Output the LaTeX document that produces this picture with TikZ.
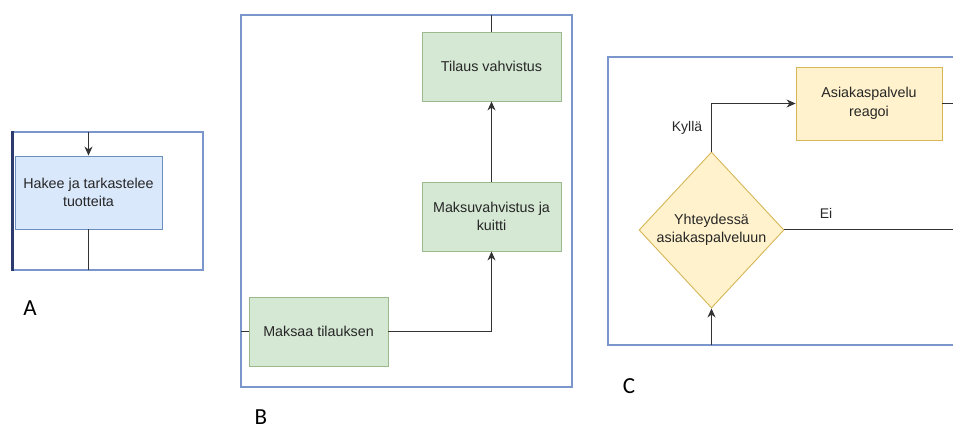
\documentclass[tikz,border=0pt]{standalone}
\usepackage{fontspec}
\setmainfont{Liberation Sans}
\newfontfamily\labfont{Carlito}
\usetikzlibrary{arrows.meta,shapes.geometric}
\definecolor{framec}{HTML}{7B96CC}
\definecolor{navy}{HTML}{2B3B6E}
\definecolor{bluef}{HTML}{DAE8FC}\definecolor{blues}{HTML}{6C8EBF}
\definecolor{greenf}{HTML}{D5E8D4}\definecolor{greens}{HTML}{9CB98E}
\definecolor{yellf}{HTML}{FFF2CC}\definecolor{yells}{HTML}{D6B656}
\definecolor{linec}{HTML}{333333}
\tikzset{
  x=1pt,y=-1pt,
  frame/.style={draw=framec,line width=1.3pt},
  boxtxt/.style={font=\fontsize{14.3}{18.5}\selectfont,align=center,text=black!85,inner sep=0pt},
  bluebox/.style={boxtxt,draw=blues,fill=bluef,line width=0.9pt,minimum width=147pt,minimum height=73pt},
  greenbox/.style={boxtxt,draw=greens,fill=greenf,line width=0.9pt,minimum width=139pt,minimum height=69pt},
  yellbox/.style={boxtxt,draw=yells,fill=yellf,line width=0.9pt,minimum width=146pt,minimum height=73pt},
  decision/.style={boxtxt,diamond,draw=yells,fill=yellf,line width=0.9pt,minimum width=145pt,minimum height=156pt,aspect=0.93},
  conn/.style={draw=linec,line width=1pt},
  arr/.style={conn,-{Stealth[length=9pt,width=8pt]}},
  edgelab/.style={font=\fontsize{14}{16}\selectfont,text=black!85,inner sep=0pt},
  panellab/.style={font=\labfont\fontsize{23}{24}\selectfont,inner sep=0pt}
}
\begin{document}
\begin{tikzpicture}
\useasboundingbox (0,0) rectangle (953,430);
% frames
\draw[frame] (12,132) rectangle (203,270);
\draw[navy,line width=2.6pt] (12.5,131) -- (12.5,271);
\draw[frame] (241,15) rectangle (572,387);
\draw[frame] (960,57) -- (608,57) -- (608,345) -- (960,345);
% panel A
\node[bluebox] (hakee) at (88.5,192.5) {Hakee ja tarkastelee\\tuotteita};
\coordinate (atop) at (88.5,132);
\coordinate (abot) at (88.5,270);
\draw[arr] (atop) -- (hakee.north);
\draw[conn] (hakee.south) -- (abot);
\node[panellab] (labA) at (30,308) {A};
% panel B
\node[greenbox] (tilaus) at (491.5,66.5) {Tilaus vahvistus};
\node[greenbox] (maksuv) at (491.5,216.5) {Maksuvahvistus ja\\kuitti};
\node[greenbox] (maksaa) at (318.5,331.5) {Maksaa tilauksen};
\coordinate (btop) at (491.5,15);
\coordinate (bleft) at (241,331.5);
\draw[conn] (btop) -- (tilaus.north);
\draw[conn] (bleft) -- (maksaa.west);
\draw[arr] (maksaa.east) -| (maksuv.south);
\draw[arr] (maksuv.north) -- (tilaus.south);
\node[panellab] (labB) at (261,417) {B};
% panel C
\node[yellbox] (asiak) at (869,103.5) {Asiakaspalvelu\\reagoi};
\node[decision] (yht) at (711.5,230) {Yhteydessä\\asiakaspalveluun};
\coordinate (cbot) at (711.5,345);
\coordinate (cright1) at (953,103.5);
\coordinate (cright2) at (953,230);
\draw[arr] (cbot) -- (yht.south);
\draw[arr] (yht.north) |- (asiak.west);
\draw[conn] (asiak.east) -- (cright1);
\draw[conn] (yht.east) -- (cright2);
\node[edgelab] (kylla) at (687,128) {Kyllä};
\node[edgelab] (ei) at (826,213) {Ei};
\node[panellab] (labC) at (629,386) {C};
\end{tikzpicture}
\end{document}
